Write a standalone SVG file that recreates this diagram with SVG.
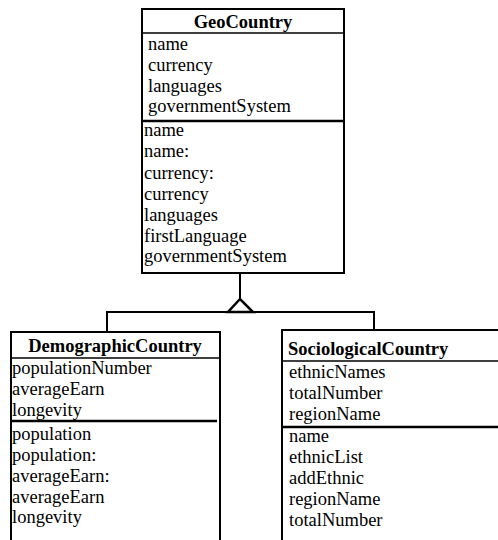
<svg xmlns="http://www.w3.org/2000/svg" width="498" height="540" viewBox="0 0 498 540">
<style>
.box{fill:#fff;stroke:#000;stroke-width:2}
.sep{stroke:#000;stroke-width:1.5}
.sep2{stroke:#000;stroke-width:2.5}
.t{font-family:"Liberation Serif","Times New Roman",serif;font-size:18.5px;fill:#000}
.b{font-weight:bold}
.c{fill:none;stroke:#000;stroke-width:2}
</style>
<rect width="498" height="540" fill="#fff"/>
<g id="connectors">
<path class="c" d="M240,273 V299"/>
<path class="c" d="M107,332 V312 H374 V330"/>
<polygon points="240,299 228,312 253,312" fill="#fff" stroke="#000" stroke-width="2.5"/>
</g>
<g id="GeoCountry">
<rect class="box" x="142" y="9" width="202" height="264"/>
<line class="sep" x1="142" y1="33" x2="344" y2="33"/>
<line class="sep2" x1="142" y1="121" x2="344" y2="121"/>
<text class="t b" x="243" y="28" text-anchor="middle">GeoCountry</text>
<text class="t" x="148" y="50">name</text>
<text class="t" x="148" y="71">currency</text>
<text class="t" x="148" y="92">languages</text>
<text class="t" x="148" y="112">governmentSystem</text>
<text class="t" x="144" y="136">name</text>
<text class="t" x="144" y="157">name:</text>
<text class="t" x="144" y="179">currency:</text>
<text class="t" x="144" y="200">currency</text>
<text class="t" x="144" y="221">languages</text>
<text class="t" x="144" y="242">firstLanguage</text>
<text class="t" x="144" y="262">governmentSystem</text>
</g>
<g id="DemographicCountry">
<rect class="box" x="11" y="332" width="209" height="220"/>
<line class="sep" x1="11" y1="358" x2="220" y2="358"/>
<line class="sep2" x1="11" y1="421" x2="217" y2="421"/>
<text class="t b" x="115" y="352" text-anchor="middle">DemographicCountry</text>
<text class="t" x="12" y="374">populationNumber</text>
<text class="t" x="12" y="395">averageEarn</text>
<text class="t" x="12" y="416">longevity</text>
<text class="t" x="12" y="440">population</text>
<text class="t" x="12" y="461">population:</text>
<text class="t" x="12" y="482">averageEarn:</text>
<text class="t" x="12" y="503">averageEarn</text>
<text class="t" x="12" y="523">longevity</text>
</g>
<g id="SociologicalCountry">
<rect class="box" x="282" y="330" width="230" height="220"/>
<line class="sep" x1="282" y1="361" x2="498" y2="361"/>
<line class="sep2" x1="282" y1="427" x2="498" y2="427"/>
<text class="t b" x="288" y="355">SociologicalCountry</text>
<text class="t" x="289" y="378">ethnicNames</text>
<text class="t" x="289" y="399">totalNumber</text>
<text class="t" x="289" y="420">regionName</text>
<text class="t" x="289" y="442">name</text>
<text class="t" x="289" y="463">ethnicList</text>
<text class="t" x="289" y="484">addEthnic</text>
<text class="t" x="289" y="505">regionName</text>
<text class="t" x="289" y="526">totalNumber</text>
</g>
</svg>
